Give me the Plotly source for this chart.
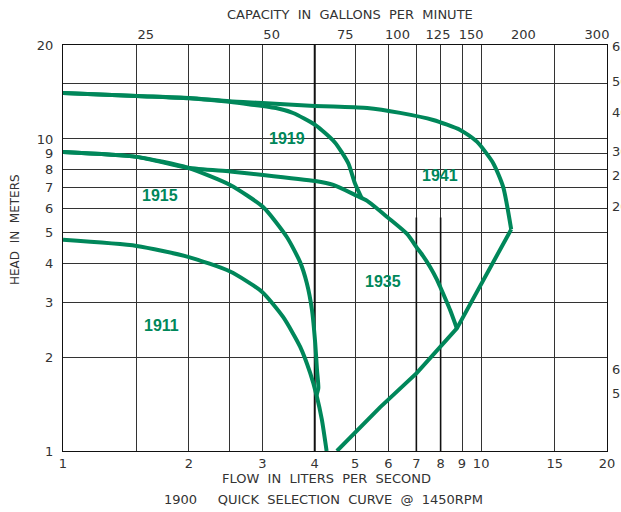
import math
import plotly.graph_objects as go

# ---------------- data ----------------
flow_1911 = [1.0, 1.5, 1.99, 2.51, 2.99, 3.36, 3.69, 3.90, 4.04, 4.16, 4.27]
head_1911 = [4.75, 4.54, 4.19, 3.76, 3.24, 2.69, 2.16, 1.78, 1.51, 1.26, 1.00]

flow_1915 = [1.0, 1.5, 1.99, 2.51, 3.01, 3.43, 3.69, 3.83, 3.94, 4.01, 4.05, 4.08, 4.04]
head_1915 = [9.08, 8.76, 8.08, 7.12, 6.05, 4.85, 4.03, 3.45, 2.83, 2.22, 1.82, 1.59, 1.51]

flow_1919 = [1.0, 1.5, 2.0, 2.5, 2.8, 3.25, 3.55, 4.01, 4.47, 4.81, 4.99, 5.18]
head_1919 = [14.04, 13.73, 13.5, 13.15, 12.9, 12.54, 12.11, 11.09, 9.74, 8.36, 7.21, 6.46]

flow_1935 = [1.0, 1.5, 1.99, 2.51, 3.01, 4.01, 4.43, 4.99, 5.34, 5.99, 6.65, 7.03, 7.26, 7.55, 7.85, 7.98, 8.43, 8.75]
head_1935 = [9.08, 8.76, 8.08, 7.86, 7.67, 7.33, 7.12, 6.62, 6.33, 5.59, 4.96, 4.47, 4.22, 3.89, 3.53, 3.36, 2.83, 2.47]

flow_1941 = [1.0, 1.5, 2.0, 2.5, 3.0, 4.0, 4.43, 5.34, 6.4, 7.68, 8.91, 9.77, 10.68, 11.29, 11.8]
head_1941 = [14.04, 13.73, 13.53, 13.2, 13.04, 12.76, 12.70, 12.57, 12.12, 11.50, 10.69, 9.80, 8.38, 7.02, 5.13]

flow_limit = [11.8, 8.75, 7.02, 5.73, 4.52]
head_limit = [5.13, 2.47, 1.78, 1.38, 1.00]

curve_labels = ["1911", "1915", "1919", "1935", "1941"]
label_flow = [1.72, 1.71, 3.43, 5.83, 7.98]
label_head = [2.52, 6.57, 10.0, 3.49, 7.61]

x_tickvals = [1, 1.5, 2, 2.5, 3, 4, 5, 6, 7, 8, 9, 10, 15, 20]
x_ticktext = ["1", "", "2", "", "3", "4", "5", "6", "7", "8", "9", "10", "15", "20"]
y_tickvals = [1, 2, 3, 4, 5, 6, 7, 8, 9, 10, 15, 20]
y_ticktext = ["1", "2", "3", "4", "5", "6", "7", "8", "9", "10", "", "20"]
gpm_ticks = [25, 50, 75, 100, 125, 150, 200, 300]
feet_ticks = [65, 50, 40, 30, 25, 20, 6, 5]

GPM_PER_LPS = 15.85
FT_PER_M = 3.2808

# ---------------- style ----------------
GREEN = "#00875A"
GRID = "#333333"
TXT = "#333333"
FONT = "DejaVu Sans"
NB = "\u00a0"

fig = go.Figure()

# emphasised grid lines (4 L/s full height, 7 & 8 L/s lower part)
fig.add_trace(go.Scatter(x=[4, 4], y=[1, 20], mode="lines",
                         line=dict(color="#111111", width=2),
                         hoverinfo="skip", showlegend=False))
for xv in (7, 8):
    fig.add_trace(go.Scatter(x=[xv, xv], y=[1, 5.6], mode="lines",
                             line=dict(color="#111111", width=1.6),
                             hoverinfo="skip", showlegend=False))

for fx, hy in [(flow_1911, head_1911), (flow_1915, head_1915),
               (flow_1919, head_1919), (flow_1935, head_1935),
               (flow_1941, head_1941)]:
    fig.add_trace(go.Scatter(x=fx, y=hy, mode="lines",
                             line=dict(color=GREEN, width=4, shape="spline", smoothing=0.6),
                             hoverinfo="skip", showlegend=False))
fig.add_trace(go.Scatter(x=flow_limit, y=head_limit, mode="lines",
                         line=dict(color=GREEN, width=4, shape="linear"),
                         hoverinfo="skip", showlegend=False))

# invisible anchors for secondary axes
fig.add_trace(go.Scatter(x=[1], y=[1], xaxis="x2", yaxis="y", mode="markers",
                         marker=dict(opacity=0), hoverinfo="skip", showlegend=False))
fig.add_trace(go.Scatter(x=[1], y=[1], xaxis="x", yaxis="y2", mode="markers",
                         marker=dict(opacity=0), hoverinfo="skip", showlegend=False))

for t, fx, hy in zip(curve_labels, label_flow, label_head):
    fig.add_annotation(x=math.log10(fx), y=math.log10(hy), xref="x", yref="y",
                       text=f"<b>{t}</b>", showarrow=False,
                       xanchor="center", yanchor="middle",
                       font=dict(family="Liberation Sans", size=16, color=GREEN))

rng = [0, math.log10(20)]
tickfont = dict(family=FONT, size=13, color=TXT)

fig.update_layout(
    width=621, height=512,
    margin=dict(l=63, r=14, t=45, b=61, autoexpand=False),
    paper_bgcolor="white", plot_bgcolor="white",
    font=dict(family=FONT, size=13, color=TXT),
    xaxis=dict(type="log", range=rng, tickvals=x_tickvals, ticktext=x_ticktext,
               showgrid=True, gridcolor=GRID, gridwidth=1, automargin=False,
               showline=True, linecolor="#111111", linewidth=1, mirror=True,
               ticks="", tickfont=tickfont, ticklabelstandoff=0, zeroline=False),
    xaxis2=dict(type="log", range=rng, overlaying="x", side="top", anchor="y",
                tickvals=[g / GPM_PER_LPS for g in gpm_ticks],
                ticktext=[str(g) for g in gpm_ticks], automargin=False,
                showgrid=False, showline=False, ticks="", tickfont=tickfont,
                ticklabelstandoff=2),
    yaxis=dict(type="log", range=rng, tickvals=y_tickvals, ticktext=y_ticktext,
               showgrid=True, gridcolor=GRID, gridwidth=1, automargin=False,
               showline=True, linecolor="#111111", linewidth=1, mirror=True,
               ticks="", tickfont=tickfont, ticklabelstandoff=6, zeroline=False),
    yaxis2=dict(type="log", range=rng, overlaying="y", side="right", anchor="x",
                tickvals=[f / FT_PER_M for f in feet_ticks],
                ticktext=[str(f) for f in feet_ticks], automargin=False,
                showgrid=False, showline=False, ticks="", tickfont=tickfont,
                ticklabelstandoff=4),
)

fig.add_annotation(text=f"CAPACITY{NB*2}IN{NB*2}GALLONS{NB*2}PER{NB*2}MINUTE",
                   xref="paper", yref="paper", x=(350 - 63) / 544, y=1 + 30 / 406,
                   xanchor="center", yanchor="middle",
                   showarrow=False, font=dict(family=FONT, size=13, color=TXT))
fig.add_annotation(text=f"FLOW{NB*2}IN{NB*2}LITERS{NB*2}PER{NB*2}SECOND",
                   xref="paper", yref="paper", x=(326 - 63) / 544, y=-(479 - 451) / 406,
                   xanchor="center", yanchor="middle",
                   showarrow=False, font=dict(family=FONT, size=13, color=TXT))
fig.add_annotation(text=f"1900{NB*5}QUICK{NB*2}SELECTION{NB*2}CURVE{NB*2}@{NB*2}1450RPM",
                   xref="paper", yref="paper", x=(323 - 63) / 544, y=-(500 - 451) / 406,
                   xanchor="center", yanchor="middle",
                   showarrow=False, font=dict(family=FONT, size=13, color=TXT))
fig.add_annotation(text=f"HEAD{NB*2}IN{NB*2}METERS", textangle=-90,
                   xref="paper", yref="paper", x=-(63 - 15) / 544, y=(451 - 230) / 406,
                   xanchor="center", yanchor="middle",
                   showarrow=False, font=dict(family=FONT, size=12, color=TXT))

fig.write_html("out.html")
